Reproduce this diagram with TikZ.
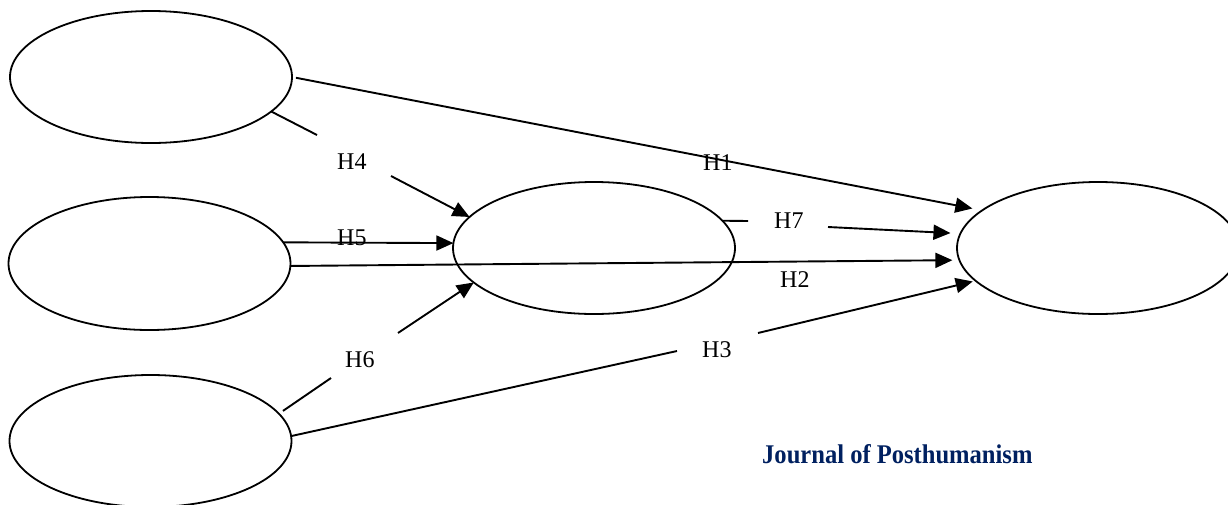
\documentclass[tikz,border=0pt]{standalone}
\usepackage{fontspec}
\setmainfont{Liberation Serif}
\usetikzlibrary{arrows.meta,shapes.geometric}
\definecolor{navy}{RGB}{0,32,96}
\begin{document}
\begin{tikzpicture}[x=1pt,y=-1pt,
  construct/.style={draw, ellipse, line width=1.8pt, minimum width=282pt, minimum height=132pt, inner sep=0pt, outer sep=0pt},
  link/.style={line width=1.9pt},
  arr/.style={line width=1.9pt, -{Triangle[length=17pt,width=15pt]}},
  hlabel/.style={anchor=base west, inner sep=0pt, font=\fontsize{24}{28}\selectfont}]
\useasboundingbox (0,0) rectangle (1228,504);
\clip (0,0) rectangle (1228,504);
% constructs
\node[construct] (A) at (151,77) {};
\node[construct, minimum height=133pt] (B) at (149.5,263.5) {};
\node[construct] (C) at (150.5,441) {};
\node[construct] (M) at (594,248) {};
\node[construct] (R) at (1098,248) {};
% gap points around labels
\coordinate (g4a) at (317,135);
\coordinate (g4b) at (391,176);
\coordinate (g6a) at (331,378);
\coordinate (g6b) at (398,333);
\coordinate (g3a) at (677,351);
\coordinate (g3b) at (758,333);
\coordinate (g7a) at (748,221);
\coordinate (g7b) at (828,227);
% connectors
\draw[arr, shorten <=4pt, shorten >=10pt] (A.east) -- (R.162);
\draw[link] (A.-16) -- (g4a);
\draw[arr] (g4b) -- (M.166);
\draw[arr] (B.9) -- (M.178);
\draw[arr, shorten >=7pt] (B.-1) -- (R.185);
\draw[link, shorten <=5pt] (C.12) -- (g6a);
\draw[arr] (g6b) -- (M.196);
\draw[link] (C.2) -- (g3a);
\draw[arr, shorten >=3pt] (g3b) -- (R.195);
\draw[link] (M.12) -- (g7a);
\draw[arr, shorten >=10pt] (g7b) -- (R.174);
% labels
\node[hlabel] (lH1) at (703,170) {H1};
\node[hlabel] (lH2) at (780,287) {H2};
\node[hlabel] (lH3) at (702,357) {H3};
\node[hlabel] (lH4) at (337,169) {H4};
\node[hlabel] (lH5) at (337,245) {H5};
\node[hlabel] (lH6) at (345,367) {H6};
\node[hlabel] (lH7) at (774,228) {H7};
\node[anchor=base west, inner sep=0pt, text=navy, font=\fontsize{27}{32}\selectfont\bfseries] (jp) at (762,463) {\scalebox{0.91}[1]{Journal of Posthumanism}};
\end{tikzpicture}
\end{document}
